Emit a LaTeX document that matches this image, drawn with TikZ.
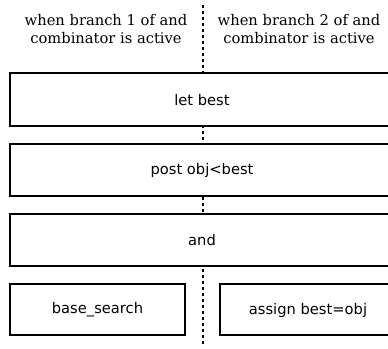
\documentclass[tikz,border=0pt]{standalone}
\usepackage{fontspec}
\setmainfont{DejaVu Serif}
\newfontfamily\boxfont{DejaVu Sans}
\begin{document}
\begin{tikzpicture}[x=1pt,y=-1pt,
  blk/.style={draw=black, fill=white, line width=1.4pt, rectangle, inner sep=0pt},
  lbl/.style={font=\fontsize{14.7}{18}\selectfont, align=center},
  btxt/.style={font=\boxfont\fontsize{14.7}{17}\selectfont}]
\useasboundingbox (0,0) rectangle (388,348);
\begin{scope}
\clip (0,0) rectangle (388,348);
\coordinate (top) at (203,5);
\coordinate (bot) at (203,346);
\draw[line width=1.4pt, dash pattern=on 3pt off 3pt] (top) -- (bot);
\node[lbl] (l1) at (106,29) {when branch 1 of and\\combinator is active};
\node[lbl] (l2) at (299,29) {when branch 2 of and\\combinator is active};
\draw[blk] (10,73) rectangle (396,126);
\node[btxt] (b1) at (202,100) {let best};
\draw[blk] (10,144) rectangle (396,196);
\node[btxt] (b2) at (202,170) {post obj<best};
\draw[blk] (10,214) rectangle (396,266);
\node[btxt] (b3) at (202,240) {and};
\draw[blk] (10,284) rectangle (185,335);
\node[btxt] (b4) at (97.5,310) {base\_search};
\draw[blk] (220,284) rectangle (396,335);
\node[btxt] (b5) at (308,310) {assign best=obj};
\end{scope}
\end{tikzpicture}
\end{document}
